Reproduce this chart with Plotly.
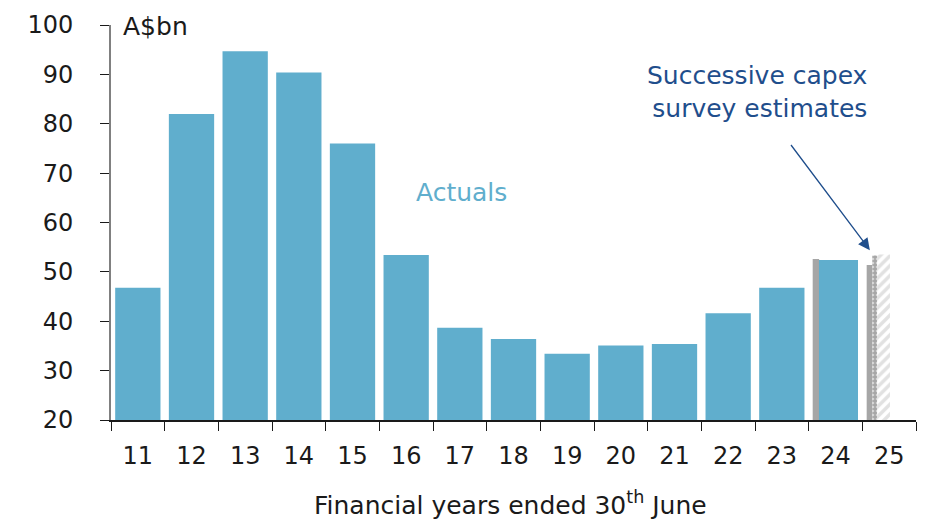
import plotly.graph_objects as go

# Financial years (ended 30 June) and capex values, A$bn
years = ["11", "12", "13", "14", "15", "16", "17", "18", "19", "20", "21", "22", "23", "24", "25"]
actual_years = years[:14]
actuals = [46.8, 82.0, 94.7, 90.4, 76.0, 53.4, 38.7, 36.4, 33.4, 35.1, 35.4, 41.6, 46.8, 52.4]

# Successive capex survey estimates
est1_years = ["24", "25"]
est1_values = [52.6, 51.4]
est2_years = ["25"]
est2_values = [53.3]
est3_years = ["25"]
est3_values = [53.5]

y_ticks = [20, 30, 40, 50, 60, 70, 80, 90, 100]

BLUE = "#60AECD"
GREY = "#A6A6A6"
NAVY = "#1F4E8C"
INK = "#1A1A1A"
FONT = "DejaVu Sans"

fig = go.Figure()

# Grey strips for the first survey estimate (sit to the left of the actual bar)
fig.add_trace(go.Bar(
    x=est1_years, y=est1_values,
    offset=[-0.425, -0.419], width=[0.12, 0.104],
    marker=dict(color=GREY, line=dict(width=0)),
    showlegend=False, hoverinfo="x+y",
))

# Actuals
offsets = [-0.422] * 13 + [-0.308]
widths = [0.844] * 13 + [0.727]
fig.add_trace(go.Bar(
    x=actual_years, y=actuals,
    offset=offsets, width=widths,
    marker=dict(color=BLUE, line=dict(width=0)),
    showlegend=False, hoverinfo="x+y",
))

# Second estimate: dotted
fig.add_trace(go.Bar(
    x=est2_years, y=est2_values,
    offset=-0.315, width=0.093,
    marker=dict(color=GREY, line=dict(width=0),
                pattern=dict(shape=".", fgcolor="white", bgcolor=GREY, size=4, solidity=0.35)),
    showlegend=False, hoverinfo="x+y",
))

# Third estimate: hatched
fig.add_trace(go.Bar(
    x=est3_years, y=est3_values,
    offset=-0.222, width=0.237,
    marker=dict(color="#C8C8C8", line=dict(width=0),
                pattern=dict(shape="/", fgcolor="#C4C4C4", bgcolor="white", size=7, solidity=0.5)),
    showlegend=False, hoverinfo="x+y",
))

fig.update_layout(
    width=927, height=521,
    barmode="overlay",
    margin=dict(l=111, r=11, t=20, b=101),
    paper_bgcolor="white", plot_bgcolor="white",
    font=dict(family=FONT, size=23, color=INK),
    xaxis=dict(
        type="category", categoryorder="array", categoryarray=years,
        range=[-0.5, 14.5],
        tickson="boundaries", ticks="outside", ticklen=9, tickwidth=1.3, tickcolor=INK,
        showline=True, linecolor=INK, linewidth=1.5,
        showgrid=False, zeroline=False,
        tickfont=dict(family=FONT, size=24, color=INK),
        ticklabelstandoff=13,
    ),
    yaxis=dict(
        range=[20, 100], tickvals=y_ticks,
        ticks="outside", ticklen=9, tickwidth=1.3, tickcolor=INK,
        showline=True, linecolor="#808080", linewidth=1.8,
        showgrid=False, zeroline=False,
        tickfont=dict(family=FONT, size=24, color=INK),
        ticklabelstandoff=22,
    ),
    annotations=[
        dict(text="Financial years ended 30<sup>th</sup> June", xref="paper", yref="paper",
             x=0.4957, y=-0.2125, xanchor="center", yanchor="middle", showarrow=False,
             font=dict(family=FONT, size=25, color=INK)),
        dict(text="A$bn", xref="paper", yref="y", x=0.013, y=99.6,
             xanchor="left", yanchor="middle", showarrow=False,
             font=dict(family=FONT, size=25, color=INK)),
        dict(text="Actuals", xref="x", yref="y", x=6.04, y=66.0,
             xanchor="center", yanchor="middle", showarrow=False,
             font=dict(family=FONT, size=25, color=BLUE)),
        dict(text="Successive capex<br>survey estimates", xref="x", yref="y", x=13.62, y=86.5,
             xanchor="right", yanchor="middle", align="right", showarrow=False,
             font=dict(family=FONT, size=25, color=NAVY)),
        dict(text="", xref="x", yref="y", x=13.64, y=54.4,
             axref="x", ayref="y", ax=12.15, ay=76.0,
             showarrow=True, arrowhead=2, arrowsize=1.8, arrowwidth=1.3, arrowcolor=NAVY),
    ],
)

fig.write_html("out.html")
